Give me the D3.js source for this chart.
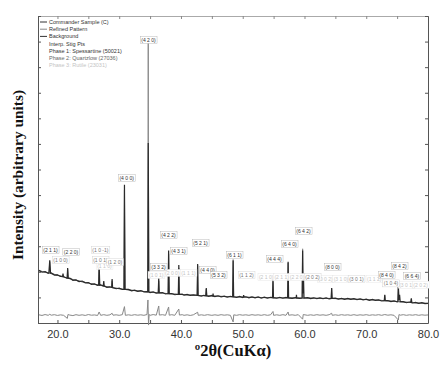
<!DOCTYPE html>
<html>
<head>
<meta charset="utf-8">
<script src="https://cdn.jsdelivr.net/npm/d3@7"></script>
<style>
  body { margin: 0; background: #fff; }
  svg { display: block; }
</style>
</head>
<body>
<svg id="chart" width="448" height="367"></svg>
<script>
// x ticks (deg 2theta) and y grid step (arbitrary counts)
var xTickValues = [20, 30, 40, 50, 60, 70, 80];
var yTickStep = 1000;

var observed = [
  [17.0,2060],[17.5,1985],[18.0,2005],[18.5,1940],[18.62,1955],[18.75,2450],[18.88,1950],
  [19.0,1955],[19.5,1875],[20.0,1880],[20.5,1820],[20.82,1815],[20.9,1930],[20.98,1810],
  [21.5,1755],[21.58,1760],[21.65,2150],[21.75,1750],[22.0,1755],[22.5,1670],[23.0,1685],
  [23.5,1620],[24.0,1640],[24.5,1570],[25.0,1580],[25.5,1510],[26.0,1525],[26.5,1470],
  [26.67,1485],[26.75,2300],[26.85,1480],[27.0,1490],[27.42,1450],[27.5,1640],[27.58,1445],
  [28.0,1395],[28.5,1415],[28.78,1390],[28.85,1720],[28.93,1385],[29.5,1340],[30.0,1365],
  [30.5,1310],[30.77,1320],[30.85,5400],[30.95,1315],[31.5,1315],[32.0,1255],[32.5,1283],
  [33.0,1235],[33.5,1268],[34.0,1215],[34.5,1228],[34.62,1220],[34.7,7040],[34.8,1215],
  [35.0,1185],[35.5,1215],[36.0,1170],[36.32,1180],[36.4,1760],[36.48,1175],[37.0,1190],
  [37.5,1135],[37.92,1150],[38.0,2830],[38.1,1148],[38.5,1153],[39.0,1105],[39.57,1122],
  [39.65,2270],[39.73,1120],[40.2,1127],[40.5,1088],[41.0,1120],[41.5,1077],[42.0,1100],
  [42.62,1080],[42.7,2310],[42.78,1078],[43.3,1053],[43.7,1083],[44.02,1065],[44.1,1370],
  [44.18,1063],[44.5,1040],[45.0,1075],[45.15,1055],[45.2,1150],[45.25,1054],[45.5,1035],
  [46.0,1065],[46.5,1020],[47.0,1050],[47.5,1010],[48.0,1045],[48.37,1025],[48.45,2440],
  [48.53,1024],[49.0,998],[49.5,1036],[50.0,997],[50.08,1012],[50.15,1090],[50.22,1011],
  [50.5,1025],[51.0,986],[51.5,1023],[52.0,985],[52.5,1018],[53.0,976],[53.5,1009],
  [54.0,972],[54.5,1006],[54.82,990],[54.9,1680],[54.98,990],[55.5,968],[56.0,1005],
  [56.5,969],[57.0,998],[57.27,983],[57.35,2390],[57.43,982],[58.0,960],[58.5,994],
  [58.65,979],[58.7,1100],[58.75,979],[59.2,963],[59.62,977],[59.7,2830],[59.78,1150],
  [59.85,1700],[59.92,976],[60.5,993],[61.0,951],[61.5,985],[62.0,948],[62.5,981],
  [63.0,949],[63.5,982],[64.0,940],[64.32,960],[64.4,1370],[64.48,959],[65.0,970],
  [65.5,932],[66.0,965],[66.5,926],[67.0,963],[67.5,924],[68.0,950],[68.5,910],[69.0,945],
  [69.5,905],[70.0,930],[70.5,889],[71.0,923],[71.5,881],[72.0,905],[72.5,861],[72.92,873],
  [73.0,1100],[73.08,871],[73.5,879],[74.0,835],[74.5,861],[75.0,823],[75.12,838],
  [75.2,1450],[75.3,900],[75.4,1100],[75.5,832],[76.0,835],[76.5,792],[77.0,820],
  [77.22,803],[77.3,960],[77.38,800],[77.5,783],[78.0,805],[78.5,763],[79.0,792],
  [79.5,756],[80.0,765]
];

// refined (calculated) pattern
var refined = [
  [17,2040],[18,1990],[18.65,1955],[18.75,2400],[18.85,1950],[19,1930],[20,1870],[21,1800],
  [21.57,1762],[21.65,2100],[21.73,1755],[22,1730],[23,1670],[24,1610],[25,1560],[26,1510],
  [26.67,1485],[26.75,2250],[26.83,1482],[27,1470],[28,1420],[28.78,1390],[28.85,1650],
  [28.92,1386],[29,1380],[30,1340],[30.77,1316],[30.85,5200],[30.93,1313],[31,1310],
  [32,1280],[33,1255],[34,1230],[34.62,1216],[34.7,11140],[34.78,1213],[35,1205],[36,1185],
  [36.33,1179],[36.4,1650],[36.47,1177],[37,1165],[37.93,1147],[38,2700],[38.07,1146],
  [39,1130],[39.58,1121],[39.65,2150],[39.72,1120],[40,1115],[42,1085],[42.63,1078],
  [42.7,2250],[42.77,1077],[44,1065],[44.1,1330],[44.17,1063],[46,1045],[48,1025],
  [48.38,1023],[48.45,2480],[48.52,1022],[50,1012],[52,1000],[54,992],[54.83,990],
  [54.9,1620],[54.97,989],[56,985],[57.28,982],[57.35,2350],[57.42,982],[58,980],
  [59.63,976],[59.7,2900],[59.77,976],[60,975],[62,968],[64,960],[64.33,958],[64.4,1350],
  [64.47,957],[66,950],[68,935],[70,915],[72,890],[72.93,873],[73,1080],[73.07,871],
  [74,855],[75.13,838],[75.2,1550],[75.27,836],[76,820],[77.23,802],[77.3,940],
  [77.37,800],[78,790],[80,765]
];

var background = [
  [17,2040],[18,1990],[19,1930],[20,1870],[21,1800],[22,1730],[23,1670],[24,1610],
  [25,1560],[26,1510],[27,1470],[28,1420],[29,1380],[30,1340],[31,1310],[32,1280],
  [33,1255],[34,1230],[35,1205],[36,1185],[37,1165],[38,1145],[39,1130],[40,1115],
  [42,1085],[44,1065],[46,1045],[48,1025],[50,1012],[52,1000],[54,992],[56,985],
  [58,980],[60,975],[62,968],[64,960],[66,950],[68,935],[70,915],[72,890],[74,855],
  [76,820],[78,790],[80,765]
];

// difference curve (obs - calc, offset)
var residual = [
  [17,320],[17.5,295],[18,330],[18.5,300],[18.75,340],[19,305],[19.5,325],[20,295],
  [20.5,318],[21,300],[21.6,180],[21.7,330],[22,310],[22.5,290],[23,325],[23.5,300],
  [24,320],[24.5,295],[25,330],[25.5,305],[26,315],[26.5,295],[26.75,430],[27,300],
  [27.5,325],[28,300],[28.5,320],[28.85,380],[29,305],[29.5,320],[30,300],[30.5,325],
  [30.85,640],[31,300],[31.5,320],[32,300],[32.5,325],[33,305],[33.5,320],[34,300],
  [34.5,330],[34.65,900],[34.75,-80],[34.85,330],[35,300],[35.5,330],[36,305],[36.4,665],
  [36.5,310],[37,325],[37.5,300],[38,626],[38.1,305],[38.5,325],[39,300],[39.65,547],
  [39.75,310],[40.2,325],[40.5,300],[41,320],[41.5,295],[42,320],[42.7,420],[42.8,300],
  [43.3,320],[43.8,300],[44.3,325],[45,300],[45.5,320],[46,300],[46.5,325],[47,305],
  [47.5,320],[48,300],[48.45,40],[48.55,320],[49,300],[49.5,325],[50,305],[50.5,320],
  [51,300],[51.5,325],[52,305],[52.5,320],[53,300],[53.5,325],[54,300],[54.5,320],
  [54.9,450],[55,300],[55.5,320],[56,300],[56.5,325],[57,300],[57.35,430],[57.45,305],
  [58,320],[58.5,300],[59,325],[59.7,150],[59.8,330],[60.5,300],[61,320],[61.5,300],
  [62,325],[62.5,305],[63,320],[63.5,300],[64,325],[64.4,380],[64.5,300],[65,320],
  [65.5,300],[66,325],[66.5,305],[67,320],[67.5,300],[68,325],[68.5,300],[69,320],
  [69.5,305],[70,325],[70.5,300],[71,320],[71.5,305],[72,325],[72.5,300],[73,330],
  [73.5,305],[74,320],[74.5,300],[75.2,117],[75.3,330],[75.5,305],[76,325],[76.5,300],
  [77,320],[77.5,305],[78,325],[78.5,300],[79,320],[79.5,305],[80,315]
];

// hkl labels: [text, 2theta, level]
var phase1Labels = [
  ["(2 1 1)",18.87,2776],["(2 2 0)",22.2,2700],["(4 0 0)",31.2,5590],["(4 2 0)",34.74,10987],
  ["(3 3 2)",36.36,2111],["(4 2 2)",37.98,3363],["(4 3 1)",39.6,2737],["(5 2 1)",43.16,3050],
  ["(4 4 0)",44.3,1994],["(5 3 2)",46.07,1799],["(6 1 1)",48.66,2580],["(4 4 4)",55.14,2424],
  ["(6 4 0)",57.57,3011],["(6 4 2)",59.84,3519],["(8 0 0)",64.53,2111],["(8 4 0)",73.28,1799],
  ["(8 4 2)",75.38,2150],["(6 6 4)",77.4,1760]
];
var phase2Labels = [
  ["(1 0 0)",20.5,2380],["(1 0 -1)",26.96,2776],["(1 0 1)",26.96,2390],["(1 2 0)",29.3,2300],
  ["(1 1 2)",50.6,1800],["(2 0 2)",61.3,1720],["(3 0 1)",68.4,1650],["(1 0 4)",74.0,1470]
];
var phase3Labels = [
  ["(1 1 0)",27.6,2150],["(1 0 1)",36.0,1800],["(2 0 0)",38.6,1880],["(1 1 1)",41.2,1880],
  ["(2 1 0)",53.8,1720],["(2 1 1)",56.3,1720],["(2 2 0)",58.8,1720],["(0 0 2)",63.4,1650],
  ["(3 1 0)",65.9,1650],["(1 1 2)",71.3,1650],["(3 0 1)",76.5,1420],["(2 0 2)",78.8,1420]
];

var legendItems = ["Commander Sample (C)", "Refined Pattern", "Background", "Interp. Stig Pts",
  "Phase 1: Spessartine (50021)", "Phase 2: Quartzlow (27036)", "Phase 3: Rutile (23031)"];

var svg = d3.select("#chart");
var padL = 38, padR = 428, padT = 16, padB = 323;

var x = d3.scaleLinear().domain([16.85, 80]).range([padL, padR]);
var y = d3.scaleLinear().domain([0, 12000]).range([padB, padT]);

var xMinor = d3.range(20, 80.1, 5);
var yMinor = d3.range(0, 12001, yTickStep);

// axes, ticks point inward
svg.append("g")
  .attr("transform", "translate(0," + padB + ")")
  .call(d3.axisBottom(x).tickValues(xMinor).tickSizeInner(-3).tickSizeOuter(0).tickPadding(7)
    .tickFormat(function(d) { return xTickValues.indexOf(d) >= 0 ? d.toFixed(1) : ""; }))
  .call(function(g) {
    g.selectAll("text").attr("font-family", "Liberation Sans, Arial, sans-serif")
      .attr("font-size", 11).attr("fill", "#333");
    g.select(".domain").attr("stroke", "#555");
    g.selectAll(".tick line").attr("stroke", "#555");
  });

svg.append("g")
  .attr("transform", "translate(0," + padT + ")")
  .call(d3.axisTop(x).tickValues(xMinor).tickSizeInner(-3).tickSizeOuter(0).tickFormat(""))
  .call(function(g) {
    g.select(".domain").attr("stroke", "#aaa");
    g.selectAll(".tick line").attr("stroke", "#888");
  });

svg.append("g")
  .attr("transform", "translate(" + padL + ",0)")
  .call(d3.axisLeft(y).tickValues(yMinor).tickSizeInner(-3).tickSizeOuter(0).tickFormat(""))
  .call(function(g) {
    g.select(".domain").attr("stroke", "#555");
    g.selectAll(".tick line").attr("stroke", "#555");
  });

svg.append("g")
  .attr("transform", "translate(" + padR + ",0)")
  .call(d3.axisRight(y).tickValues(yMinor).tickSizeInner(-3).tickSizeOuter(0).tickFormat(""))
  .call(function(g) {
    g.select(".domain").attr("stroke", "#555");
    g.selectAll(".tick line").attr("stroke", "#555");
  });

// lines
var line = d3.line()
  .x(function(d) { return x(d[0]); })
  .y(function(d) { return y(d[1]); });

var plot = svg.append("g");

plot.append("path").datum(background)
  .attr("fill", "none").attr("stroke", "#444").attr("stroke-width", 0.8).attr("d", line);

plot.append("path").datum(refined)
  .attr("fill", "none").attr("stroke", "#8a8a8a").attr("stroke-width", 1).attr("d", line);

plot.append("path").datum(observed)
  .attr("fill", "none").attr("stroke", "#2a2a2a").attr("stroke-width", 1.2).attr("d", line);

plot.append("path").datum(residual)
  .attr("fill", "none").attr("stroke", "#888").attr("stroke-width", 1).attr("d", line);

// hkl labels
function drawLabels(list, color, border) {
  list.forEach(function(d) {
    var g = plot.append("g");
    var t = g.append("text")
      .attr("x", x(d[1])).attr("y", y(d[2]))
      .attr("text-anchor", "middle")
      .attr("font-family", "Liberation Sans, Arial, sans-serif")
      .attr("font-size", 5)
      .attr("fill", color)
      .text(d[0]);
    var b = t.node().getBBox();
    g.insert("rect", "text")
      .attr("x", b.x - 1).attr("y", b.y - 0.5)
      .attr("width", b.width + 2).attr("height", b.height + 1)
      .attr("fill", "#fff").attr("stroke", border).attr("stroke-width", 0.4);
  });
}
drawLabels(phase3Labels, "#c4c4c4", "#e2e2e2");
drawLabels(phase2Labels, "#777", "#ccc");
drawLabels(phase1Labels, "#333", "#aaa");

// legend
var legend = svg.append("g").attr("font-family", "Liberation Sans, Arial, sans-serif").attr("font-size", 5.5);
var legColors = ["#333", "#333", "#333", "#333", "#333", "#666", "#c4c4c4"];
var legLines = ["#333", "#888", "#333", null, null, null, null];
legendItems.forEach(function(name, i) {
  var ly = 22 + i * 7.2;
  if (legLines[i]) {
    legend.append("line").attr("x1", 40).attr("x2", 47).attr("y1", ly).attr("y2", ly)
      .attr("stroke", legLines[i]).attr("stroke-width", 1);
  }
  legend.append("text").attr("x", 49).attr("y", ly + 2).attr("fill", legColors[i]).text(name);
});

// axis titles
svg.append("text")
  .attr("transform", "translate(23,175) rotate(-90)")
  .attr("text-anchor", "middle")
  .attr("font-family", "Liberation Serif, Times New Roman, serif")
  .attr("font-weight", "bold")
  .attr("font-size", 15.4)
  .attr("fill", "#111")
  .text("Intensity (arbitrary units)");

svg.append("text")
  .attr("x", 233).attr("y", 356)
  .attr("text-anchor", "middle")
  .attr("font-family", "Liberation Serif, Times New Roman, serif")
  .attr("font-weight", "bold")
  .attr("font-size", 16.5)
  .attr("fill", "#111")
  .text("º2θ(CuKα)");
</script>
</body>
</html>
